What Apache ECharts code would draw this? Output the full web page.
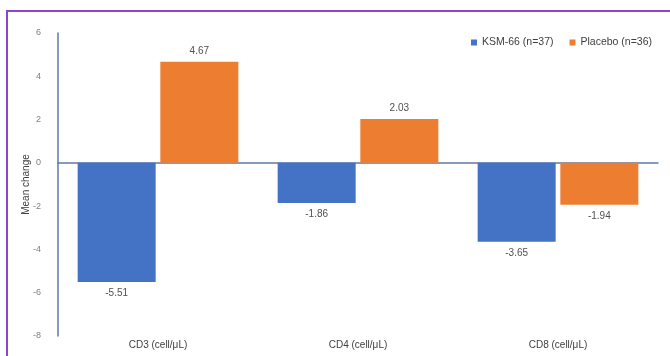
<!DOCTYPE html>
<html>
<head>
<meta charset="utf-8">
<script src="https://cdn.jsdelivr.net/npm/echarts@6/dist/echarts.min.js"></script>
<style>
  html, body { margin: 0; padding: 0; background: #fff; }
  #wrap { position: relative; width: 670px; height: 356px; overflow: hidden; }
  #chart { position: absolute; left: 0; top: 0; width: 670px; height: 356px; }
  #frame {
    position: absolute; left: 6px; top: 10px; width: 700px; height: 400px;
    border: 2px solid #8b45cf; pointer-events: none;
  }
</style>
</head>
<body>
<div id="wrap">
  <div id="chart"></div>
  <div id="frame"></div>
</div>
<script>
const categories = ['CD3 (cell/μL)', 'CD4 (cell/μL)', 'CD8 (cell/μL)'];
const ksmValues = [-5.51, -1.86, -3.65];
const placeboValues = [4.67, 2.03, -1.94];
const seriesNames = ['KSM-66 (n=37)', 'Placebo (n=36)'];

const FONT = 'Liberation Sans, Arial, sans-serif';
const AXIS_COLOR = '#5f7aa6';

const chart = echarts.init(document.getElementById('chart'), null, {renderer: 'canvas'});

function barLabel(v) {
  return {
    show: true,
    position: v >= 0 ? 'top' : 'bottom',
    distance: 6,
    color: '#505050',
    fontSize: 10,
    fontFamily: FONT,
    formatter: p => p.value.toFixed(2)
  };
}

chart.setOption({
  animation: false,
  legend: {
    data: seriesNames,
    top: 32,
    right: 13,
    icon: 'rect',
    itemWidth: 6,
    itemHeight: 6,
    itemGap: 16,
    textStyle: {fontSize: 10.5, fontFamily: FONT, color: '#404040'}
  },
  grid: {left: 58, right: 12, top: 33, bottom: 20, containLabel: false},
  xAxis: [
    {
      type: 'category',
      data: categories,
      axisLine: {onZero: true, lineStyle: {color: AXIS_COLOR, width: 1.5}},
      axisTick: {show: false},
      axisLabel: {show: false}
    },
    {
      type: 'category',
      data: categories,
      position: 'bottom',
      axisLine: {show: false},
      axisTick: {show: false},
      axisLabel: {margin: 4, fontSize: 10, fontFamily: FONT, color: '#404040'}
    }
  ],
  yAxis: {
    type: 'value',
    min: -8,
    max: 6,
    interval: 2,
    name: 'Mean change',
    nameLocation: 'middle',
    nameGap: 27,
    nameMoveOverlap: false,
    nameTextStyle: {fontSize: 10, fontFamily: FONT, color: '#404040'},
    axisLine: {show: true, lineStyle: {color: AXIS_COLOR, width: 1.5}},
    axisTick: {show: false},
    splitLine: {show: false},
    axisLabel: {margin: 17, fontSize: 9, fontFamily: FONT, color: '#808080'}
  },
  series: [
    {
      name: seriesNames[0],
      type: 'bar',
      data: ksmValues.map(v => ({value: v, label: barLabel(v)})),
      barWidth: 78,
      barGap: '6%',
      itemStyle: {color: '#4472c4'}
    },
    {
      name: seriesNames[1],
      type: 'bar',
      data: placeboValues.map(v => ({value: v, label: barLabel(v)})),
      barWidth: 78,
      barGap: '6%',
      itemStyle: {color: '#ed7d31'}
    }
  ]
});
</script>
</body>
</html>
